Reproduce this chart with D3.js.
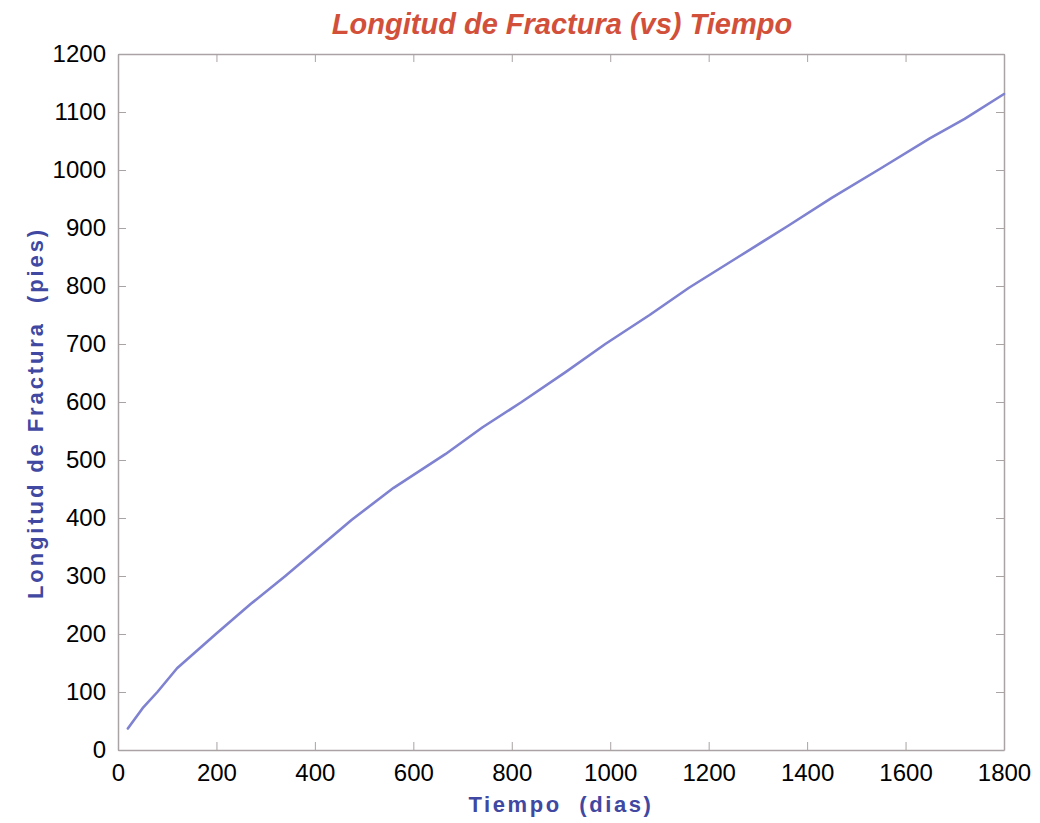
<!DOCTYPE html>
<html>
<head>
<meta charset="utf-8">
<script src="https://cdn.jsdelivr.net/npm/d3@7"></script>
<style>
  body{ margin:0; background:#fff; }
  svg text{ font-family:"Liberation Sans", Arial, sans-serif; }
  .ax path, .ax line{ stroke:#aaa3a3; }
  .ax text{ font-size:24px; fill:#000; }
</style>
</head>
<body>
<div id="chart"></div>
<script>
// datos (días, pies)
const dias   = [20, 50, 80, 120, 200, 270, 340, 400, 475, 560, 665, 740, 820, 910, 990, 1080, 1160, 1260, 1360, 1450, 1550, 1650, 1720, 1800];
const largo  = [37, 72, 100, 141, 201, 252, 300, 343, 397, 452, 510, 556, 600, 652, 700, 750, 797, 850, 903, 952, 1003, 1055, 1088, 1131];
const xTicks = [0, 200, 400, 600, 800, 1000, 1200, 1400, 1600, 1800];
const yTicks = [0, 100, 200, 300, 400, 500, 600, 700, 800, 900, 1000, 1100, 1200];

const W = 1040, H = 823;
const margin = { top: 54, right: 36, bottom: 73, left: 118 };
const innerW = W - margin.left - margin.right;
const innerH = H - margin.top - margin.bottom;
const fmt = d3.format("d");

const svg = d3.select("#chart").append("svg")
  .attr("width", W).attr("height", H);

const g = svg.append("g").attr("transform", `translate(${margin.left},${margin.top})`);

const x = d3.scaleLinear().domain([0, 1800]).range([0, innerW]);
const y = d3.scaleLinear().domain([0, 1200]).range([innerH, 0]);

// caja con marcas hacia adentro (estilo matlab)
g.append("g").attr("class", "ax")
  .attr("transform", `translate(0,${innerH})`)
  .call(d3.axisBottom(x).tickValues(xTicks).tickFormat(fmt).tickSize(-8).tickSizeOuter(0).tickPadding(14))
  .selectAll("text").attr("dy", "0.71em");
g.append("g").attr("class", "ax")
  .call(d3.axisTop(x).tickValues(xTicks).tickSize(-8).tickSizeOuter(0).tickFormat(""));
g.append("g").attr("class", "ax")
  .call(d3.axisLeft(y).tickValues(yTicks).tickFormat(fmt).tickSize(-8).tickSizeOuter(0).tickPadding(12));
g.append("g").attr("class", "ax")
  .attr("transform", `translate(${innerW},0)`)
  .call(d3.axisRight(y).tickValues(yTicks).tickSize(-8).tickSizeOuter(0).tickFormat(""));

g.selectAll(".ax path").attr("stroke-width", 1.5);

// curva
const pts = dias.map((d, i) => [d, largo[i]]);
g.append("path")
  .datum(pts)
  .attr("fill", "none")
  .attr("stroke", "#7f82d0")
  .attr("stroke-width", 2.6)
  .attr("stroke-linejoin", "round")
  .attr("stroke-linecap", "round")
  .attr("d", d3.line().x(d => x(d[0])).y(d => y(d[1])));

// títulos
svg.append("text")
  .attr("x", 562).attr("y", 34)
  .attr("text-anchor", "middle")
  .style("font-size", "29px").style("font-weight", "bold").style("font-style", "italic")
  .style("fill", "#d2503a")
  .text("Longitud de Fractura (vs) Tiempo");

svg.append("text")
  .attr("x", 561).attr("y", 812)
  .attr("text-anchor", "middle")
  .style("font-size", "22px").style("font-weight", "bold")
  .style("letter-spacing", "2.6px")
  .style("fill", "#4048a2")
  .attr("xml:space", "preserve")
  .text("Tiempo  (dias)");

svg.append("text")
  .attr("transform", "translate(43,413) rotate(-90)")
  .attr("text-anchor", "middle")
  .style("font-size", "22px").style("font-weight", "bold")
  .style("letter-spacing", "2.9px")
  .style("fill", "#4048a2")
  .attr("xml:space", "preserve")
  .text("Longitud de Fractura  (pies)");
</script>
</body>
</html>
